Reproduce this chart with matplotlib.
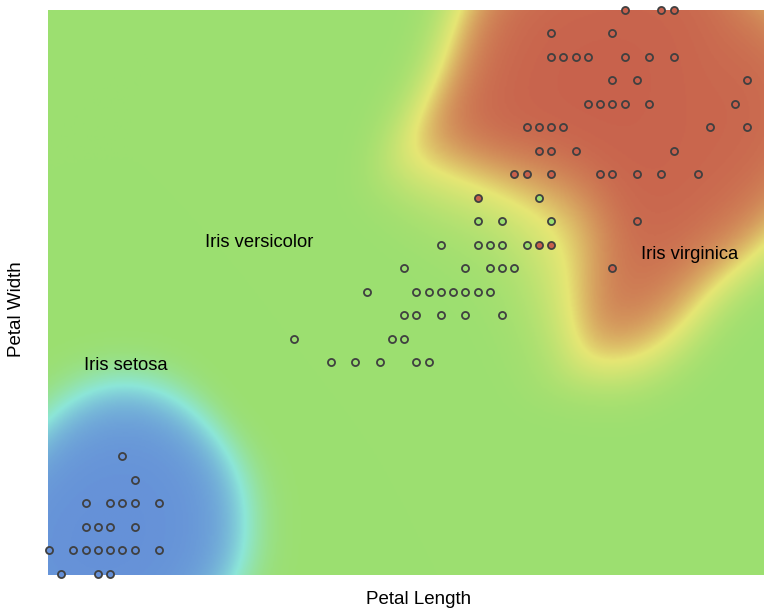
import numpy as np
import matplotlib.pyplot as plt
from matplotlib.colors import LinearSegmentedColormap

plt.rcParams['font.family'] = ['Liberation Sans', 'DejaVu Sans']

# petal length / petal width, one list per class
setosa_pl = [1.1, 1.4, 1.5,
             1.0, 1.2, 1.3, 1.4, 1.5, 1.6, 1.7, 1.9,
             1.3, 1.4, 1.5, 1.7,
             1.3, 1.5, 1.6, 1.7, 1.9,
             1.7, 1.6]
setosa_pw = [0.1, 0.1, 0.1,
             0.2, 0.2, 0.2, 0.2, 0.2, 0.2, 0.2, 0.2,
             0.3, 0.3, 0.3, 0.3,
             0.4, 0.4, 0.4, 0.4, 0.4,
             0.5, 0.6]

versicolor_pl = [3.3, 3.5, 3.7, 4.0, 4.1,
                 3.0, 3.8, 3.9,
                 3.9, 4.0, 4.2, 4.4, 4.7,
                 3.6, 4.0, 4.1, 4.2, 4.3, 4.4, 4.5, 4.6,
                 3.9, 4.4, 4.6, 4.7, 4.8,
                 4.2, 4.5, 4.6, 4.7, 4.9,
                 4.5, 4.7, 5.1,
                 5.0]
versicolor_pw = [1.0, 1.0, 1.0, 1.0, 1.0,
                 1.1, 1.1, 1.1,
                 1.2, 1.2, 1.2, 1.2, 1.2,
                 1.3, 1.3, 1.3, 1.3, 1.3, 1.3, 1.3, 1.3,
                 1.4, 1.4, 1.4, 1.4, 1.4,
                 1.5, 1.5, 1.5, 1.5, 1.5,
                 1.6, 1.6, 1.6,
                 1.7]

virginica_pl = [5.6,
                5.0, 5.1,
                5.8,
                4.5,
                4.8, 4.9, 5.1, 5.5, 5.6, 5.8, 6.0, 6.3,
                5.0, 5.1, 5.3, 6.1,
                4.9, 5.0, 5.1, 5.2, 6.4, 6.7,
                5.4, 5.5, 5.6, 5.7, 5.9, 6.6,
                5.6, 5.8, 6.7,
                5.1, 5.2, 5.3, 5.4, 5.7, 5.9, 6.1,
                5.1, 5.6,
                5.7, 6.0, 6.1]
virginica_pw = [1.4,
                1.5, 1.5,
                1.6,
                1.7,
                1.8, 1.8, 1.8, 1.8, 1.8, 1.8, 1.8, 1.8,
                1.9, 1.9, 1.9, 1.9,
                2.0, 2.0, 2.0, 2.0, 2.0, 2.0,
                2.1, 2.1, 2.1, 2.1, 2.1, 2.1,
                2.2, 2.2, 2.2,
                2.3, 2.3, 2.3, 2.3, 2.3, 2.3, 2.3,
                2.4, 2.4,
                2.5, 2.5, 2.5]

class_colors = ['#6590d8', '#9cdf70', '#c8604c']

xlim = (0.992, 6.837)
ylim = (0.094, 2.5)

# smooth class map: kernel class probabilities pulled toward uniform far from data,
# coloured by expected class index (0 setosa .. 2 virginica)
bandwidths = [(0.30, 0.145), (0.30, 0.16), (0.32, 0.195)]
alpha = 0.05
gx = np.linspace(xlim[0], xlim[1], 500)
gy = np.linspace(ylim[0], ylim[1], 400)
GX, GY = np.meshgrid(gx, gy)
weights = []
for (pl, pw), (sx, sy) in zip([(setosa_pl, setosa_pw), (versicolor_pl, versicolor_pw),
                               (virginica_pl, virginica_pw)], bandwidths):
    pl = np.array(pl)[:, None, None]
    pw = np.array(pw)[:, None, None]
    k = np.exp(-((GX - pl) ** 2) / (2 * sx ** 2) - ((GY - pw) ** 2) / (2 * sy ** 2))
    weights.append(k.sum(axis=0) + alpha)
weights = np.array(weights)
probs = weights / weights.sum(axis=0)
expected = probs[1] + 2 * probs[2]

cmap = LinearSegmentedColormap.from_list(
    'iris', [(0.0, '#6590d8'), (0.25, '#8ce6d8'), (0.5, '#9cdf70'),
             (0.75, '#e6e674'), (1.0, '#c8604c')])

fig = plt.figure(figsize=(7.64, 6.12), dpi=100)
ax = fig.add_axes([48 / 764, 37 / 612, 716 / 764, 565 / 612])
ax.imshow(expected, extent=(xlim[0], xlim[1], ylim[0], ylim[1]), origin='lower',
          aspect='auto', cmap=cmap, vmin=0, vmax=2, interpolation='bilinear')

for (pl, pw), c in zip([(setosa_pl, setosa_pw), (versicolor_pl, versicolor_pw),
                        (virginica_pl, virginica_pw)], class_colors):
    ax.scatter(pl, pw, s=26, c=c, edgecolors='#404040', linewidths=1.3, zorder=3, clip_on=False)

ax.text(1.63, 0.985, 'Iris setosa', fontsize=13.2, ha='center', va='center')
ax.text(2.72, 1.51, 'Iris versicolor', fontsize=13.2, ha='center', va='center')
ax.text(6.23, 1.46, 'Iris virginica', fontsize=13.2, ha='center', va='center')

ax.set_xlim(xlim)
ax.set_ylim(ylim)
ax.set_xticks([])
ax.set_yticks([])
for s in ax.spines.values():
    s.set_visible(False)

fig.text(419 / 764, 1 - 600 / 612, 'Petal Length', fontsize=13.5, ha='center', va='center')
fig.text(17 / 764, 1 - 309 / 612, 'Petal Width', fontsize=13.5, ha='center', va='center', rotation=90)

fig.savefig('out.png', dpi=100)
